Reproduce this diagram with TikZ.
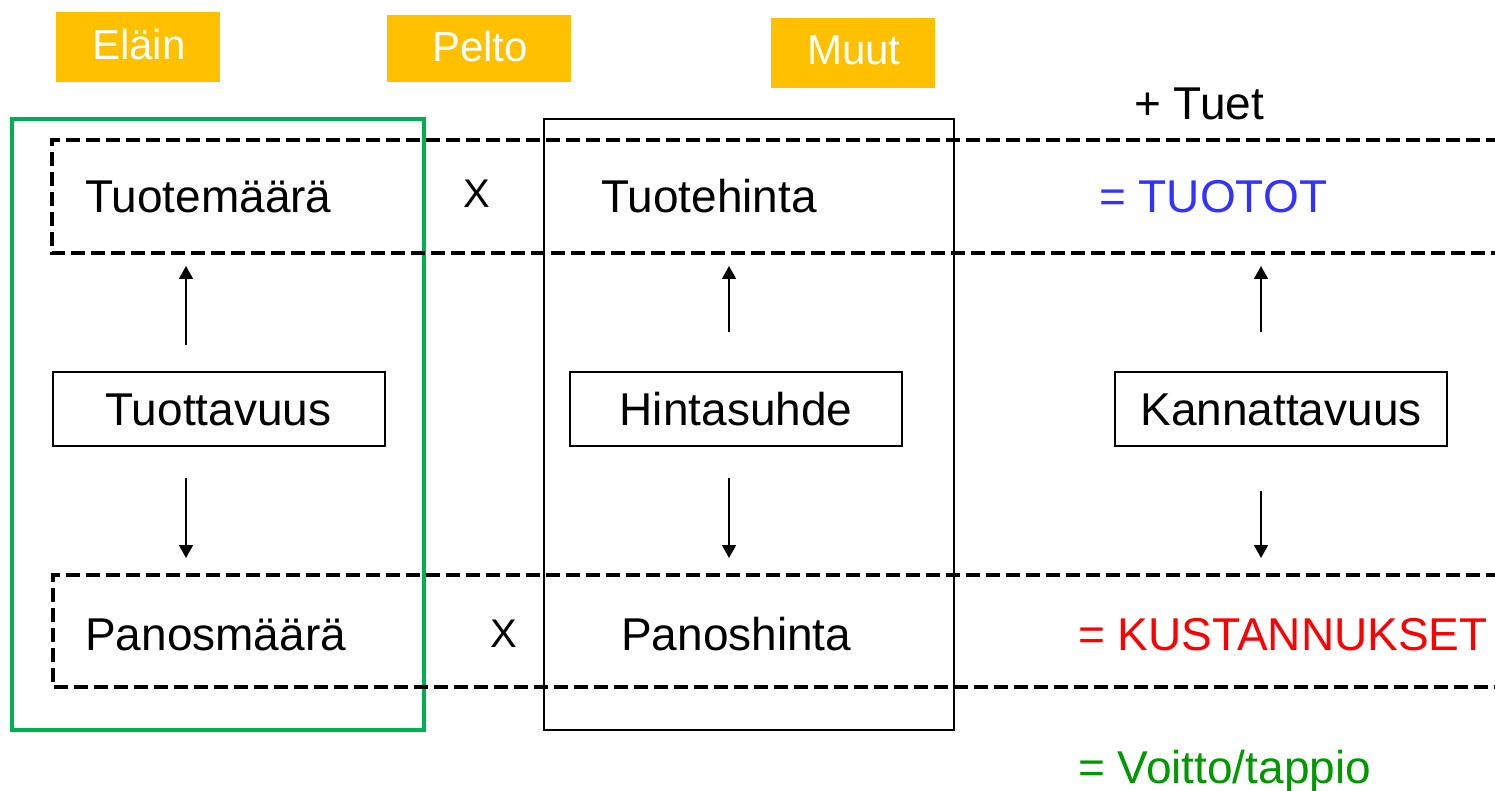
\documentclass[tikz,border=0pt]{standalone}
\usepackage{fontspec}
\setmainfont{Liberation Sans}
\usepackage{xcolor}
\usetikzlibrary{arrows.meta}

\definecolor{tagorange}{HTML}{FFC000}
\definecolor{fieldgreen}{HTML}{00B050}
\definecolor{incomeblue}{HTML}{3333FF}
\definecolor{profitgreen}{HTML}{009900}

\begin{document}
\begin{tikzpicture}[x=1pt, y=-1pt,
  lbl/.style={inner sep=0pt, anchor=base west, font=\fontsize{46}{50}\selectfont},
  tag/.style={fill=tagorange, text=white, inner sep=0pt, font=\fontsize{42}{46}\selectfont},
  box/.style={draw, line width=2pt, inner sep=0pt, minimum height=74pt, minimum width=332pt,
    text height=33pt, text depth=0pt, font=\fontsize{46}{50}\selectfont},
  row/.style={draw, line width=4.5pt, dash pattern=on 14pt off 6pt},
  arr/.style={line width=1.5pt, -{Triangle[length=13pt, width=14pt]}}]
\useasboundingbox (0,0) rectangle (1495,791);

% category tags
\node[tag, minimum width=164pt, minimum height=70pt] (elain) at (138,47) {};
\node[lbl, font=\fontsize{42}{46}\selectfont, text=white] at (92,60) {Eläin};
\node[tag, minimum width=184pt, minimum height=67pt] (pelto) at (478.5,48.5) {};
\node[lbl, font=\fontsize{42}{46}\selectfont, text=white] at (432,62) {Pelto};
\node[tag, minimum width=164pt, minimum height=70pt] (muut) at (853,53) {};
\node[lbl, font=\fontsize{42}{46}\selectfont, text=white] at (807,65) {Muut};

% column frames
\draw[fieldgreen, line width=4pt] (12,119) rectangle (424,730);
\draw[line width=2pt] (544,119) rectangle (954,730);

% dashed rows
\draw[row] (1520,140) -- (52,140) -- (52,253) -- (1520,253);
\draw[row] (1520,575) -- (53,575) -- (53,687) -- (1520,687);

% row texts
\node[lbl] (tuotemaara) at (85,213) {Tuotemäärä};
\node[lbl, font=\fontsize{40}{44}\selectfont] (x1) at (463,208) {X};
\node[lbl] (tuotehinta) at (601,213) {Tuotehinta};
\node[lbl, text=incomeblue] (tuotot) at (1099,213) {= TUOTOT};
\node[lbl] (tuet) at (1134,120) {+ Tuet};

\node[lbl] (panosmaara) at (85,650) {Panosmäärä};
\node[lbl, font=\fontsize{40}{44}\selectfont] (x2) at (490,647) {X};
\node[lbl] (panoshinta) at (621,650) {Panoshinta};
\node[lbl, text=red] (kustannukset) at (1078,650) {= KUSTANNUKSET};
\node[lbl, text=profitgreen] (voitto) at (1078,783) {= Voitto/tappio};

% middle boxes
\node[box] (tuottavuus) at (218.5,409) {Tuottavuus};
\node[box] (hintasuhde) at (736,409) {Hintasuhde};
\node[box] (kannattavuus) at (1281,409) {Kannattavuus\hspace{6pt}};

% arrow ends
\coordinate (tv1) at (186,345);
\coordinate (tv2) at (186,266);
\coordinate (tv3) at (186,478);
\coordinate (tv4) at (186,558);
\coordinate (hs1) at (729,332);
\coordinate (hs2) at (729,266);
\coordinate (hs3) at (729,478);
\coordinate (hs4) at (729,558);
\coordinate (kv1) at (1261,332);
\coordinate (kv2) at (1261,266);
\coordinate (kv3) at (1261,491);
\coordinate (kv4) at (1261,558);

\draw[arr] (tv1) -- (tv2);
\draw[arr] (tv3) -- (tv4);
\draw[arr] (hs1) -- (hs2);
\draw[arr] (hs3) -- (hs4);
\draw[arr] (kv1) -- (kv2);
\draw[arr] (kv3) -- (kv4);
\end{tikzpicture}
\end{document}
